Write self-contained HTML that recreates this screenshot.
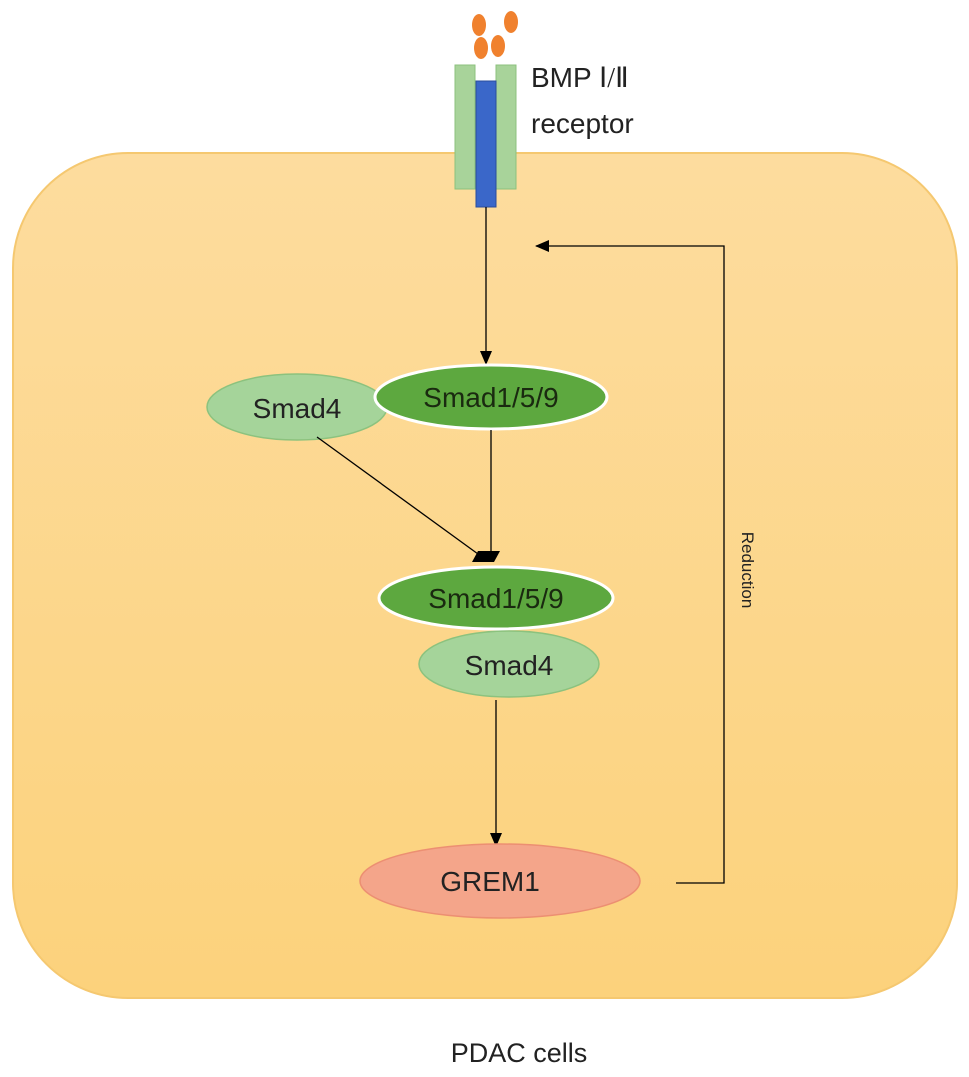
<!DOCTYPE html>
<html><head><meta charset="utf-8"><style>body{margin:0;background:#fff}svg{display:block}</style></head><body>
<svg width="969" height="1077" viewBox="0 0 969 1077" xmlns="http://www.w3.org/2000/svg" font-family="Liberation Sans, sans-serif">
<defs>
<linearGradient id="g" x1="0" y1="0" x2="0" y2="1"><stop offset="0" stop-color="#fddc9e"/><stop offset="1" stop-color="#fcd27c"/></linearGradient>
<marker id="a" markerWidth="14" markerHeight="14" refX="13" refY="7" orient="auto" markerUnits="userSpaceOnUse"><path d="M0,1 L14,7 L0,13 z" fill="#000"/></marker>
</defs>
<rect x="13" y="153" width="944" height="845" rx="115" fill="url(#g)" stroke="#f5c870" stroke-width="2"/>
<ellipse cx="479" cy="25" rx="7" ry="11" fill="#f0812e"/>
<ellipse cx="511" cy="22" rx="7" ry="11" fill="#f0812e"/>
<ellipse cx="481" cy="48" rx="7" ry="11" fill="#f0812e"/>
<ellipse cx="498" cy="46" rx="7" ry="11" fill="#f0812e"/>
<rect x="455" y="65" width="20" height="124" fill="#a8d39a" stroke="#8cc27e"/>
<rect x="496" y="65" width="20" height="124" fill="#a8d39a" stroke="#8cc27e"/>
<rect x="476" y="81" width="20" height="126" fill="#3a67c9" stroke="#2a4c9c"/>
<text x="531" y="87" font-size="28" fill="#222">BMP <tspan font-family="Liberation Serif, serif">Ⅰ/Ⅱ</tspan></text>
<text x="531" y="133" font-size="28" fill="#222">receptor</text>
<line x1="486" y1="207" x2="486" y2="364" stroke="#000" stroke-width="1.3" marker-end="url(#a)"/>
<ellipse cx="297" cy="407" rx="90" ry="33" fill="#a5d49a" stroke="#8cc27e" stroke-width="1.5"/>
<text x="297" y="418" font-size="28" text-anchor="middle" fill="#222">Smad4</text>
<ellipse cx="491" cy="397" rx="116" ry="32" fill="#5da83f" stroke="#fff" stroke-width="3"/>
<text x="491" y="407" font-size="28" text-anchor="middle" fill="#1a2a10">Smad1/5/9</text>
<line x1="491" y1="430" x2="491" y2="556" stroke="#000" stroke-width="1.3"/>
<line x1="317" y1="437" x2="478" y2="554" stroke="#000" stroke-width="1.3"/>
<path d="M478,551 L500,551 L494,562 L472,562 z" fill="#000"/>
<ellipse cx="496" cy="598" rx="117" ry="31" fill="#5da83f" stroke="#fff" stroke-width="3"/>
<text x="496" y="608" font-size="28" text-anchor="middle" fill="#1a2a10">Smad1/5/9</text>
<ellipse cx="509" cy="664" rx="90" ry="33" fill="#a5d49a" stroke="#8cc27e" stroke-width="1.5"/>
<text x="509" y="675" font-size="28" text-anchor="middle" fill="#222">Smad4</text>
<line x1="496" y1="700" x2="496" y2="846" stroke="#000" stroke-width="1.3" marker-end="url(#a)"/>
<ellipse cx="500" cy="881" rx="140" ry="37" fill="#f4a58a" stroke="#ec8f72" stroke-width="1.5"/>
<text x="490" y="891" font-size="28" text-anchor="middle" fill="#222">GREM1</text>
<polyline points="676,883 724,883 724,246 536,246" fill="none" stroke="#000" stroke-width="1.3" marker-end="url(#a)"/>
<text x="0" y="0" font-size="17" fill="#222" transform="translate(742,570) rotate(90)" text-anchor="middle">Reduction</text>
<text x="519" y="1062" font-size="27" text-anchor="middle" fill="#222">PDAC cells</text>
</svg>
</body></html>
